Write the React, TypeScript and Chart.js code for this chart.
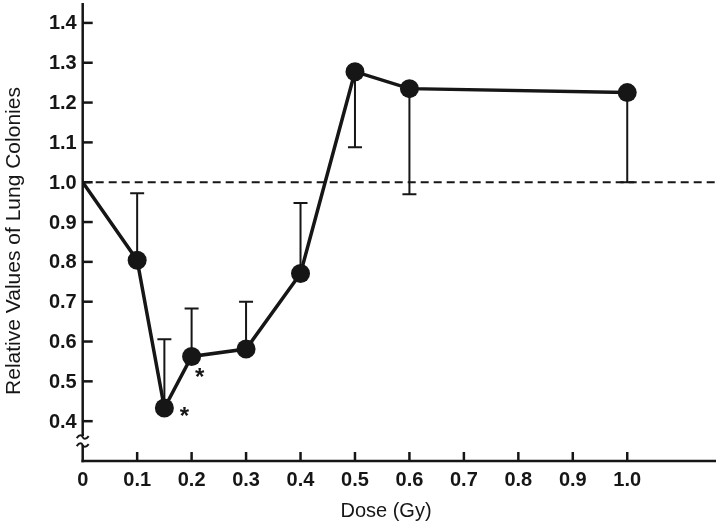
import React, { useEffect, useRef } from "react";
import { Chart, registerables } from "chart.js";

Chart.register(...registerables);

// ---- data ----
const doses = [0, 0.1, 0.15, 0.2, 0.3, 0.4, 0.5, 0.6, 1.0];
const relValues = [1.0, 0.804, 0.433, 0.5625, 0.581, 0.771, 1.2775, 1.235, 1.225];
const errUpper = [null, 0.972, 0.606, 0.683, 0.7, 0.948, null, null, null];
const errLower = [null, null, null, null, null, null, 1.0875, 0.97, 1.0];
const starredDoses = [0.15, 0.2];
const xTicks = [0, 0.1, 0.2, 0.3, 0.4, 0.5, 0.6, 0.7, 0.8, 0.9, 1.0];
const xTickLabels = ["0", "0.1", "0.2", "0.3", "0.4", "0.5", "0.6", "0.7", "0.8", "0.9", "1.0"];
const yTicks = [0.4, 0.5, 0.6, 0.7, 0.8, 0.9, 1.0, 1.1, 1.2, 1.3, 1.4];
const yTickLabels = ["0.4", "0.5", "0.6", "0.7", "0.8", "0.9", "1.0", "1.1", "1.2", "1.3", "1.4"];
const refLevel = 1.0;
const xMin = 0;
const xMax = 1.163;
const yMin = 0.3;
const yMax = 1.45;
const yBreakValue = 0.35;
const xTitle = "Dose (Gy)";
const yTitle = "Relative Values of Lung Colonies";

const INK = "#161616";
const FONT = "'Liberation Sans', Arial, sans-serif";

const customPlugin = {
  id: "custom",
  beforeDatasetsDraw(chart: any) {
    const { ctx, scales } = chart;
    const xs = scales.x;
    const ys = scales.y;
    ctx.save();
    ctx.strokeStyle = INK;
    ctx.lineWidth = 2;
    const cap = 7;
    doses.forEach((d, i) => {
      const px = xs.getPixelForValue(d);
      const py = ys.getPixelForValue(relValues[i]);
      const up = errUpper[i];
      const lo = errLower[i];
      [up, lo].forEach((e) => {
        if (e === null || e === undefined) return;
        const ey = ys.getPixelForValue(e);
        ctx.beginPath();
        ctx.moveTo(px, py);
        ctx.lineTo(px, ey);
        ctx.moveTo(px - cap, ey);
        ctx.lineTo(px + cap, ey);
        ctx.stroke();
      });
    });
    ctx.restore();
  },
  afterDraw(chart: any) {
    const { ctx, scales, chartArea } = chart;
    const xs = scales.x;
    const ys = scales.y;
    const left = chartArea.left;
    const bottom = chartArea.bottom;
    const top = chartArea.top;
    const right = chartArea.right;
    ctx.save();
    ctx.strokeStyle = INK;
    ctx.lineWidth = 2.5;
    ctx.lineCap = "butt";
    const by = ys.getPixelForValue(yBreakValue);
    // y axis with break
    ctx.beginPath();
    ctx.moveTo(left, top);
    ctx.lineTo(left, by - 5);
    ctx.moveTo(left, by + 4);
    ctx.lineTo(left, bottom + 1.25);
    ctx.stroke();
    // x axis
    ctx.beginPath();
    ctx.moveTo(left - 1.25, bottom);
    ctx.lineTo(right, bottom);
    ctx.stroke();
    // break squiggles
    ctx.lineWidth = 2;
    [by - 4, by + 4].forEach((yy) => {
      ctx.beginPath();
      ctx.moveTo(left - 6, yy + 1);
      ctx.bezierCurveTo(left - 3, yy - 3, left - 1, yy - 2, left, yy);
      ctx.bezierCurveTo(left + 1, yy + 2, left + 3, yy + 3, left + 6, yy - 1);
      ctx.stroke();
    });
    // tick marks (inward)
    ctx.lineWidth = 2.5;
    yTicks.forEach((v) => {
      const y = ys.getPixelForValue(v);
      ctx.beginPath();
      ctx.moveTo(left, y);
      ctx.lineTo(left + 10, y);
      ctx.stroke();
    });
    xTicks.forEach((v) => {
      if (v === 0) return;
      const x = xs.getPixelForValue(v);
      ctx.beginPath();
      ctx.moveTo(x, bottom);
      ctx.lineTo(x, bottom - 9);
      ctx.stroke();
    });
    // tick labels
    ctx.fillStyle = INK;
    ctx.font = `bold 20px ${FONT}`;
    ctx.textBaseline = "middle";
    ctx.textAlign = "right";
    yTicks.forEach((v, i) => {
      ctx.fillText(yTickLabels[i], left - 6, ys.getPixelForValue(v) + 1);
    });
    ctx.textAlign = "center";
    xTicks.forEach((v, i) => {
      ctx.fillText(xTickLabels[i], xs.getPixelForValue(v), bottom + 19);
    });
    // asterisks
    ctx.font = `bold 24px ${FONT}`;
    ctx.textAlign = "center";
    ctx.textBaseline = "middle";
    const offsets: Record<string, [number, number]> = { "0.15": [20, 9], "0.2": [8, 22] };
    starredDoses.forEach((d) => {
      const i = doses.indexOf(d);
      const px = xs.getPixelForValue(d);
      const py = ys.getPixelForValue(relValues[i]);
      const off = offsets[String(d)] || [15, 10];
      ctx.fillText("*", px + off[0], py + off[1]);
    });
    // titles
    ctx.font = `20px ${FONT}`;
    ctx.textAlign = "center";
    ctx.textBaseline = "middle";
    ctx.fillText(xTitle, 386, 511);
    ctx.font = `21px ${FONT}`;
    ctx.translate(14, 241);
    ctx.rotate(-Math.PI / 2);
    ctx.fillText(yTitle, 0, 0);
    ctx.restore();
  },
};

export default function App() {
  const ref = useRef<HTMLCanvasElement>(null);
  useEffect(() => {
    document.body.style.margin = "0";
    const canvas = ref.current;
    if (!canvas) return;
    const chart = new Chart(canvas, {
      type: "line",
      data: {
        datasets: [
          {
            data: [
              { x: xMin, y: refLevel },
              { x: xMax, y: refLevel },
            ],
            borderColor: INK,
            borderWidth: 2,
            borderDash: [8, 5],
            pointRadius: 0,
            fill: false,
            order: 2,
          },
          {
            data: doses.map((d, i) => ({ x: d, y: relValues[i] })),
            borderColor: INK,
            backgroundColor: INK,
            borderWidth: 3.5,
            pointRadius: doses.map((d) => (d === 0 ? 0 : 9.5)),
            pointBackgroundColor: INK,
            pointBorderWidth: 0,
            fill: false,
            order: 1,
          },
        ],
      },
      options: {
        animation: false,
        responsive: false,
        devicePixelRatio: 1,
        layout: { autoPadding: false, padding: { top: 3, right: 4, left: 0, bottom: 0 } },
        plugins: { legend: { display: false }, tooltip: { enabled: false } },
        scales: {
          x: {
            type: "linear",
            min: xMin,
            max: xMax,
            grid: { display: false, drawTicks: false },
            border: { display: false },
            ticks: { display: false },
            afterFit: (scale: any) => {
              scale.height = 69;
            },
          },
          y: {
            type: "linear",
            min: yMin,
            max: yMax,
            grid: { display: false, drawTicks: false },
            border: { display: false },
            ticks: { display: false },
            afterFit: (scale: any) => {
              scale.width = 82.7;
            },
          },
        },
      },
      plugins: [customPlugin],
    } as any);
    return () => chart.destroy();
  }, []);
  return (
    <div style={{ width: 720, height: 530 }}>
      <canvas ref={ref} width={720} height={530} />
    </div>
  );
}
